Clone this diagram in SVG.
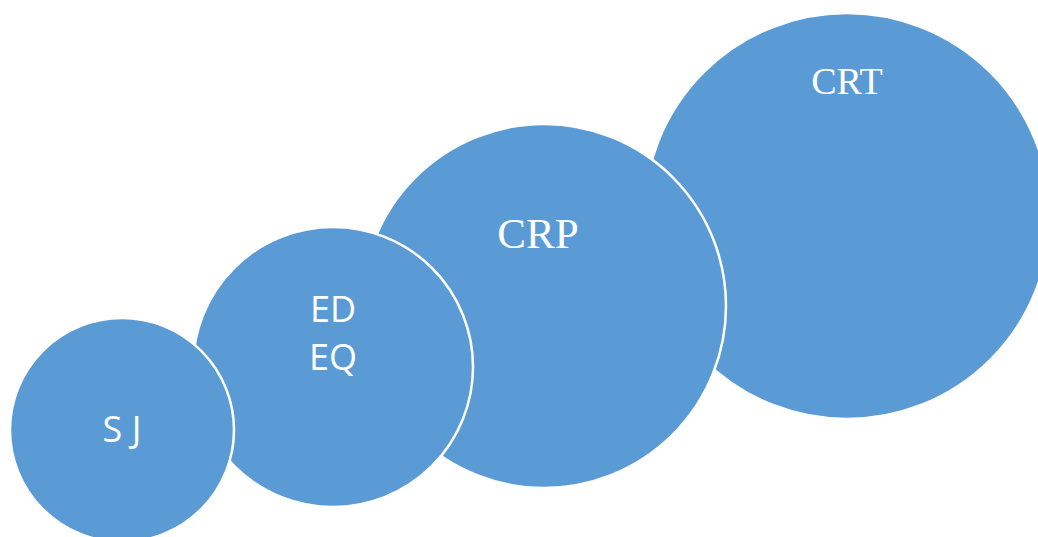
<svg xmlns="http://www.w3.org/2000/svg" width="1038" height="537" viewBox="0 0 1038 537">
<style>
.c{fill:#5B9BD5;stroke:#FFFFFF;stroke-width:2.5}
.s{font-family:"Open Sans","Noto Sans",sans-serif;font-size:36px;fill:#FFFFFF;text-anchor:middle}
.t{font-family:"Liberation Serif","Times New Roman",serif;fill:#FFFFFF;text-anchor:middle}
</style>
<rect width="1038" height="537" fill="#FFFFFF"/>
<g id="crt">
<circle class="c" cx="847" cy="216" r="203"/>
<text class="t" x="847" y="94" font-size="38">CRT</text>
</g>
<g id="crp">
<circle class="c" cx="544" cy="306" r="182"/>
<text class="t" x="538" y="248" font-size="43">CRP</text>
</g>
<g id="edeq">
<circle class="c" cx="333" cy="367" r="140"/>
<text class="s" x="333" y="322">ED</text>
<text class="s" x="333" y="370">EQ</text>
</g>
<g id="sj">
<circle class="c" cx="122" cy="430" r="112"/>
<text class="s" x="122" y="442" font-size="37">S J</text>
</g>
<g id="connectors"></g>
</svg>
